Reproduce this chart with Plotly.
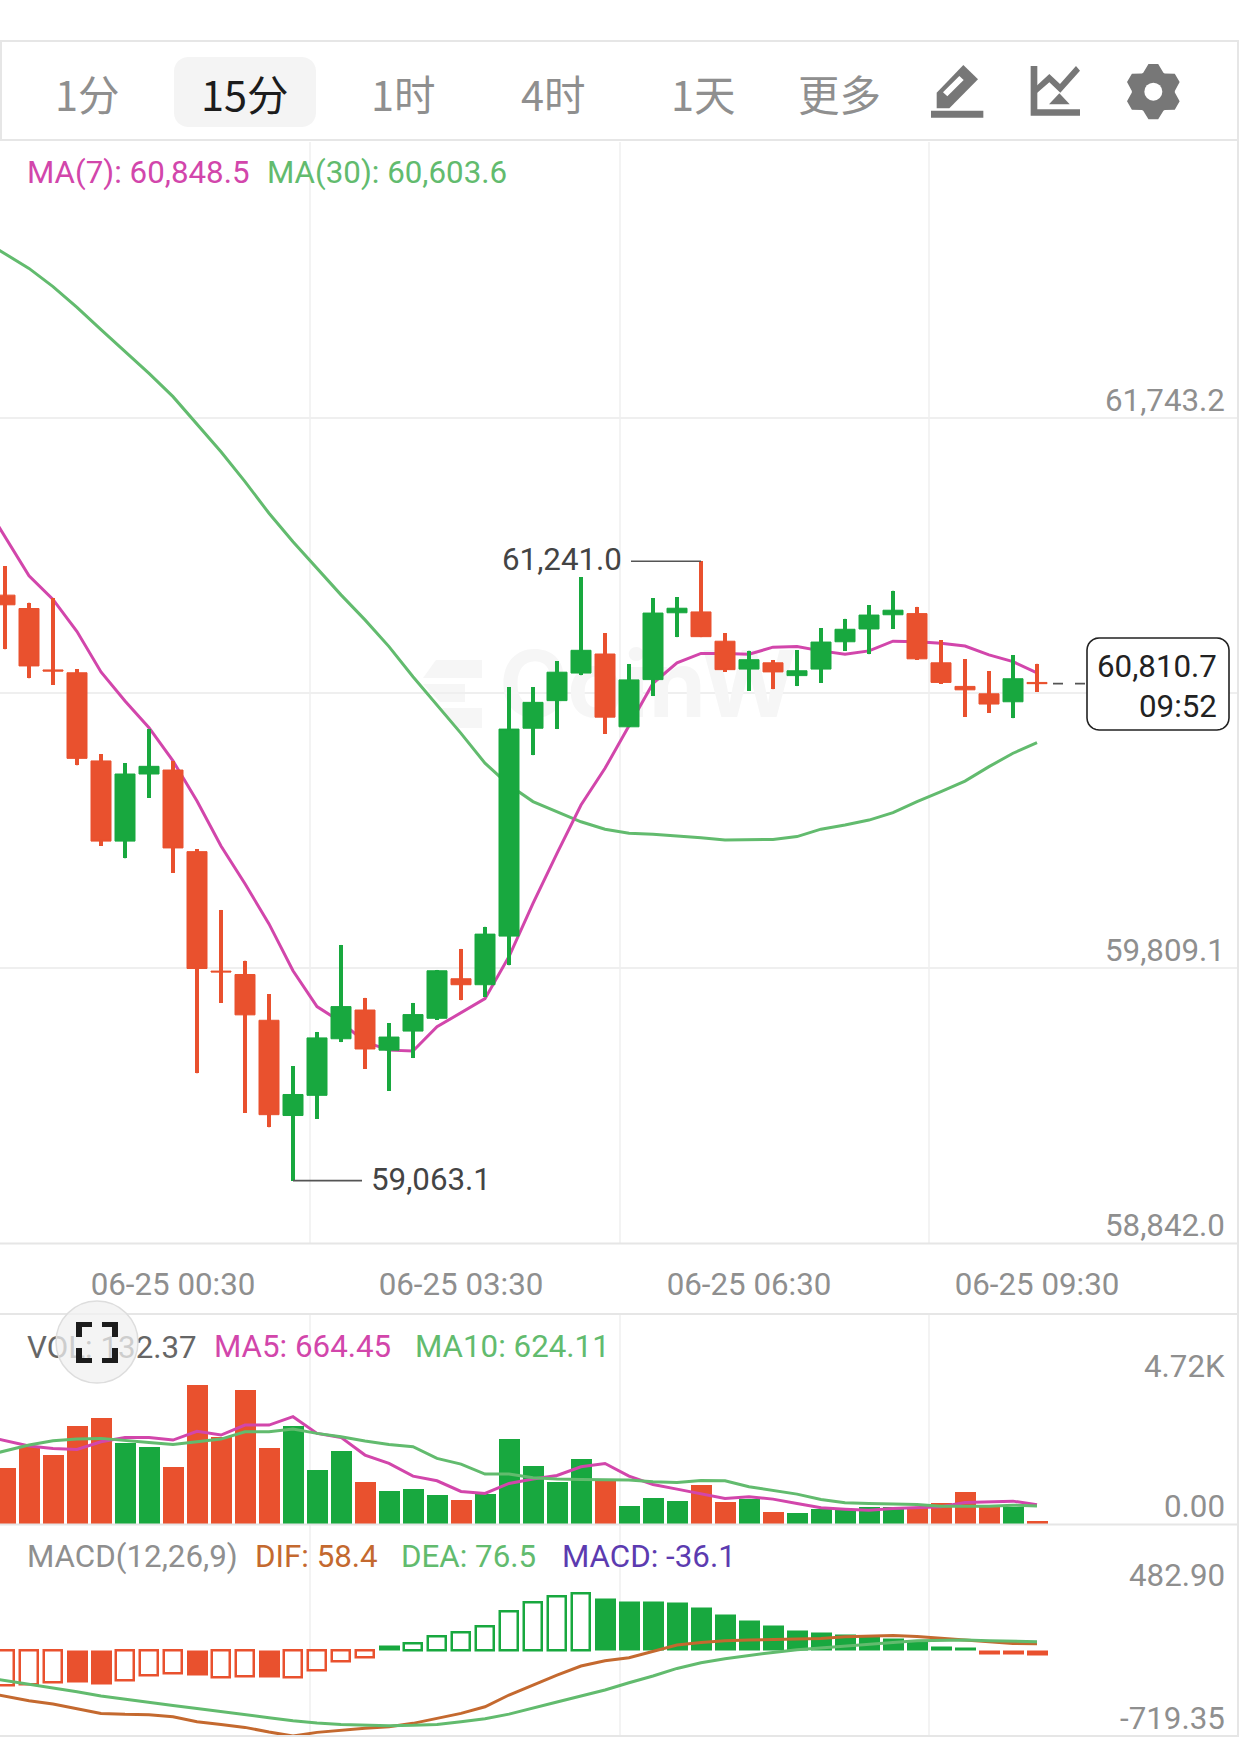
import numpy as np
import plotly.graph_objects as go

W, H = 1239, 1738

# 15-minute candles, oldest first
opens = [61122, 61075, 60859, 60849, 60539, 60257, 60493, 60507, 60220, 59800, 59788, 59627,
         59292, 59363, 59562, 59663, 59522, 59589, 59634, 59773, 59752, 59923, 60654, 60751,
         60848, 60915, 60659, 60825, 61060, 61063, 60960, 60862, 60884, 60839, 60862, 60958,
         61003, 61053, 61057, 60884, 60801, 60775, 60747, 60815]
highs = [61224, 61096, 61112, 60861, 60562, 60531, 60651, 60539, 60229, 60015, 59837, 59718,
         59466, 59586, 59892, 59706, 59616, 59688, 59804, 59878, 59956, 60798, 60798, 60889,
         61185, 60988, 60880, 61111, 61114, 61241.0, 60988, 60927, 60894, 60929, 61005, 61039,
         61087, 61138, 61081, 60964, 60896, 60855, 60910, 60881]
lows = [60931, 60829, 60806, 60523, 60240, 60196, 60409, 60146, 59440, 59689, 59301, 59250,
        59063.1, 59280, 59550, 59456, 59380, 59494, 59628, 59697, 59710, 59820, 60559, 60651,
        60840, 60635, 60659, 60767, 60974, 60974, 60853, 60785, 60791, 60802, 60814, 60927,
        60914, 61003, 60894, 60811, 60694, 60709, 60689, 60782]
closes = [61088, 60873, 60855, 60548, 60257, 60493, 60520, 60233, 59809, 59797, 59646, 59295,
          59366, 59565, 59675, 59526, 59568, 59647, 59801, 59752, 59930, 60651, 60745, 60851,
          60928, 60693, 60824, 61059, 61076, 60976, 60860, 60895, 60852, 60856, 60957, 61002,
          61052, 61069, 60898, 60815, 60789, 60739, 60828, 60810.7]

# moving averages start one bar earlier so the lines run off the left edge
ma7 = [61464, 61326, 61190, 61107, 60994, 60852, 60750, 60656, 60539, 60398, 60240, 60107,
       59966, 59801, 59675, 59621, 59551, 59522, 59519, 59604, 59654, 59703, 59851, 60038,
       60214, 60384, 60513, 60665, 60812, 60884, 60917, 60917, 60914, 60939, 60941, 60926,
       60914, 60926, 60960, 60958, 60953, 60943, 60912, 60888, 60848.5]
ma30 = [62374, 62324, 62271, 62207, 62134, 62056, 61978, 61902, 61820, 61724, 61626, 61521,
        61410, 61310, 61216, 61123, 61035, 60941, 60835, 60736, 60636, 60531, 60454, 60396,
        60360, 60325, 60299, 60285, 60281, 60276, 60269, 60261, 60261, 60263, 60273, 60299,
        60314, 60331, 60357, 60396, 60431, 60468, 60519, 60566, 60603.6]

volume = [1893, 2626, 2355, 3313, 3595, 2761, 2626, 1938, 4720, 2964, 4531, 2570,
          3325, 1837, 2479, 1443, 1138, 1195, 992, 823, 1026, 2885, 1984, 1443,
          2220, 1499, 609, 890, 789, 1330, 755, 845, 406, 372, 507, 507,
          575, 597, 597, 710, 1093, 597, 597, 132.37]
vol_ma5 = [3020, 2829, 2648, 2570, 2536, 2795, 2941, 2941, 2851, 3144, 3020, 3358,
           3358, 3640, 3077, 2941, 2344, 2062, 1634, 1476, 1116, 1048, 1386, 1533,
           1657, 1950, 2062, 1634, 1352, 1195, 1048, 879, 935, 857, 710, 564,
           518, 485, 541, 564, 597, 744, 755, 789, 664.45]
vol_ma10 = [2288, 2479, 2682, 2829, 2885, 2908, 2851, 2772, 2705, 2795, 2885, 3133,
            3133, 3223, 3077, 2964, 2818, 2705, 2626, 2231, 2040, 1702, 1702, 1578,
            1533, 1521, 1521, 1499, 1443, 1420, 1488, 1476, 1274, 1138, 1026, 845,
            733, 710, 687, 676, 620, 609, 620, 654, 624.11]

macd_hist = [-295, -281, -267, -267, -286, -253, -208, -191, -211, -222, -219, -227,
             -225, -163, -93, -56, 42, 62, 118, 154, 202, 329, 407, 455,
             482.9, 441, 418, 418, 404, 362, 306, 258, 213, 174, 152, 135,
             118, 104, 84, 34, 31, -28, -28, -36.1]
macd_hollow = [1, 1, 1, 0, 0, 1, 1, 1, 0, 1, 1, 0,
               1, 1, 1, 1, 0, 1, 1, 1, 1, 1, 1, 1,
               1, 0, 0, 0, 0, 0, 0, 0, 0, 0, 0, 0,
               0, 0, 0, 0, 0, 0, 0, 0]
dif = [-345, -382, -421, -449, -486, -528, -536, -539, -556, -598, -621, -646,
       -685, -719.35, -688, -668, -654, -640, -612, -570, -528, -472, -373, -289,
       -205, -129, -84, -59, -8, 48, 70, 84, 90, 93, 95, 104,
       118, 126, 129, 121, 107, 93, 73, 62, 58.4]
dea = [-219, -250, -284, -312, -345, -382, -410, -435, -461, -486, -514, -539,
       -564, -590, -609, -621, -629, -632, -629, -621, -598, -573, -534, -486,
       -432, -382, -331, -270, -213, -149, -101, -67, -39, -14, 8, 25,
       39, 53, 70, 84, 87, 90, 84, 81, 76.5]

time_bars = [7, 19, 31, 43]
time_labels = ["06-25 00:30", "06-25 03:30", "06-25 06:30", "06-25 09:30"]

price_ticks = [61743.2, 60776.15, 59809.1, 58842.0]
price_tick_text = ["61,743.2", "", "59,809.1", "58,842.0"]
vol_ticks = [4720, 0]
vol_tick_text = ["4.72K", "0.00"]
macd_ticks = [482.90, -719.35]
macd_tick_text = ["482.90", "-719.35"]
period_tabs = ["1分", "15分", "1时", "4时", "1天", "更多"]

RED = "#e9512e"
GREEN = "#18a83f"
MAGENTA = "#d246ab"
LIGHT_GREEN = "#62bb6e"
BROWN = "#c4692f"
GREY = "#8f8f8f"
BORDER = "#e6e6e6"
GRID = "#f3f3f3"
FONT = "Roboto"
CJK = "Noto Sans CJK SC"
TEXT_SIZE = 31.3
LINE_W = 3

bars = np.arange(len(opens))
ma_bars = np.arange(-1, len(opens))


def px(x):
    return x / W


def py(y):
    return 1 - y / H


def bar_pos(x):
    """Index position of a horizontal pixel on the shared bar axis."""
    return (x - 5) / 24


def line_shape(x0, y0, x1, y1, color=BORDER, width=2, dash="solid", layer="above"):
    return dict(type="line", xref="paper", yref="paper", x0=px(x0), x1=px(x1), y0=py(y0), y1=py(y1),
                line=dict(color=color, width=width, dash=dash), layer=layer)


def poly(points, fill, line=None, width=0, layer="above"):
    d = "M " + " L ".join(f"{px(x):.5f},{py(y):.5f}" for x, y in points) + " Z"
    return dict(type="path", xref="paper", yref="paper", path=d, fillcolor=fill,
                line=dict(color=line or fill, width=width), layer=layer)


def rounded(x0, y0, x1, y1, r):
    pts = []
    for cx, cy, a0 in ((x1 - r, y0 + r, -90), (x1 - r, y1 - r, 0), (x0 + r, y1 - r, 90), (x0 + r, y0 + r, 180)):
        for a in np.radians(np.linspace(a0, a0 + 90, 7)):
            pts.append((cx + r * np.cos(a), cy + r * np.sin(a)))
    return pts


def text(x, y, s, size=TEXT_SIZE, color=GREY, anchor="left", family=FONT):
    return dict(xref="paper", yref="paper", x=px(x), y=py(y), text=s, showarrow=False,
                xanchor=anchor, yanchor="middle", borderpad=0, borderwidth=0,
                font=dict(family=family, size=size, color=color))


def level_labels(axis, vals, labels):
    """Scale labels sit just above the level they name, flush with the right edge."""
    return [dict(xref="paper", yref=axis, x=px(1226), y=v, text=s, showarrow=False, xanchor="right",
                 yanchor="middle", yshift=18, borderpad=0, font=dict(family=FONT, size=TEXT_SIZE, color=GREY))
            for v, s in zip(vals, labels) if s]


fig = go.Figure()

# faint exchange mark behind the price panel
fig.add_trace(go.Scatter(x=[bar_pos(648)], y=[60776], mode="text", text=["CoinW"], textposition="middle center",
                         textfont=dict(family="Inter", size=92, color="#f6f6f6", weight=700),
                         hoverinfo="skip", showlegend=False, xaxis="x", yaxis="y"))
fig.add_trace(go.Scatter(x=ma_bars, y=ma30, mode="lines", line=dict(color=LIGHT_GREEN, width=LINE_W),
                         hoverinfo="skip", showlegend=False, xaxis="x", yaxis="y"))
fig.add_trace(go.Scatter(x=ma_bars, y=ma7, mode="lines", line=dict(color=MAGENTA, width=LINE_W),
                         hoverinfo="skip", showlegend=False, xaxis="x", yaxis="y"))

# candles live on an overlaid pair of axes so they paint over the averages;
# the wick is a narrow bar so the body outline can stay hairline thin
up = [c >= o for o, c in zip(opens, closes)]
candle_color = [GREEN if u else RED for u in up]
fig.add_trace(go.Bar(x=bars, y=[h - l for h, l in zip(highs, lows)], base=lows, width=0.135,
                     marker=dict(color=candle_color, line=dict(width=0)),
                     hoverinfo="skip", showlegend=False, xaxis="x4", yaxis="y4"))
fig.add_trace(go.Candlestick(x=bars, open=opens, high=highs, low=lows, close=closes, whiskerwidth=0,
                             increasing=dict(line=dict(color=GREEN, width=1), fillcolor=GREEN),
                             decreasing=dict(line=dict(color=RED, width=1), fillcolor=RED),
                             hoverinfo="skip", showlegend=False, xaxis="x4", yaxis="y4"))

fig.add_trace(go.Bar(x=bars, y=volume, width=0.875, marker=dict(color=candle_color, line=dict(width=0)),
                     hoverinfo="skip", showlegend=False, xaxis="x2", yaxis="y2"))
fig.add_trace(go.Scatter(x=ma_bars, y=vol_ma5, mode="lines", line=dict(color=MAGENTA, width=LINE_W),
                         hoverinfo="skip", showlegend=False, xaxis="x2", yaxis="y2"))
fig.add_trace(go.Scatter(x=ma_bars, y=vol_ma10, mode="lines", line=dict(color=LIGHT_GREEN, width=LINE_W),
                         hoverinfo="skip", showlegend=False, xaxis="x2", yaxis="y2"))
# the readout sits under the fullscreen button, so it is a trace rather than an annotation
fig.add_trace(go.Scatter(x=[bar_pos(27)], y=[5900], mode="text", text=["VOL: 132.37"], textposition="middle right",
                         textfont=dict(family=FONT, size=TEXT_SIZE, color="#666666"),
                         hoverinfo="skip", showlegend=False, xaxis="x2", yaxis="y2", cliponaxis=False))

hist_color = [GREEN if v >= 0 else RED for v in macd_hist]
fig.add_trace(go.Bar(x=bars, y=macd_hist, width=[0.77 if h else 0.875 for h in macd_hollow],
                     marker=dict(color=["rgba(255,255,255,0)" if h else c for h, c in zip(macd_hollow, hist_color)],
                                 line=dict(color=hist_color, width=[2.5 if h else 0 for h in macd_hollow])),
                     hoverinfo="skip", showlegend=False, xaxis="x3", yaxis="y3"))
fig.add_trace(go.Scatter(x=ma_bars, y=dif, mode="lines", line=dict(color=BROWN, width=LINE_W),
                         hoverinfo="skip", showlegend=False, xaxis="x3", yaxis="y3"))
fig.add_trace(go.Scatter(x=ma_bars, y=dea, mode="lines", line=dict(color=LIGHT_GREEN, width=LINE_W),
                         hoverinfo="skip", showlegend=False, xaxis="x3", yaxis="y3"))

# Chrome: panel borders, period selector, tool icons, fullscreen button
shapes = [line_shape(0, y, W, y) for y in (41, 140, 1243.5, 1314, 1524.5, 1736)]
shapes += [line_shape(1, 41, 1, 140), line_shape(1238, 41, 1238, 1736)]
shapes.append(poly(rounded(174, 57, 316, 127, 14), "#f4f4f4"))

# pen
ICON = "#777777"


def z9(x, y):
    return 920 + x / 3, 50 + y / 3


shapes.append(poly([z9(*p) for p in [(130, 45), (174, 88), (88, 175), (50, 175), (50, 128)]], ICON))
shapes.append(poly([z9(*p) for p in [(118, 78), (131, 90), (82, 139), (69, 127)]], "#ffffff"))
shapes.append(poly([z9(*p) for p in [(33, 182), (190, 182), (190, 203), (33, 203)]], ICON))
# chart tool
shapes.append(poly([z9(*p) for p in [(332, 48), (352, 48), (352, 178), (480, 178), (480, 197), (332, 197)]], ICON))
shapes.append(poly([z9(*p) for p in [(350, 107), (388, 72), (420, 102), (468, 48), (480, 62), (421, 128), (388, 97), (350, 130)]], ICON))
shapes.append(poly([z9(*p) for p in [(387, 163), (449, 163), (418, 130)]], ICON))
# gear
gear_x, gear_y = z9(700, 125)
gear = []
for k in range(6):
    a = np.radians(-90 + 60 * k)
    for da, r in ((-28, 21.5), (-10, 28), (10, 28), (28, 21.5)):
        t = a + np.radians(da)
        gear.append((gear_x + r * np.cos(t), gear_y + r * np.sin(t)))
shapes.append(poly(gear, ICON))
shapes.append(dict(type="circle", xref="paper", yref="paper", x0=px(gear_x - 9), x1=px(gear_x + 9),
                   y0=py(gear_y + 9), y1=py(gear_y - 9), fillcolor="#ffffff", line=dict(width=0), layer="above"))

# watermark logo blocks
shapes.append(poly([(436, 660), (482, 660), (482, 678), (423, 678)], "#f6f6f6", layer="below"))
shapes.append(poly([(423, 684), (465, 684), (465, 702), (440, 702)], "#f6f6f6", layer="below"))
shapes.append(poly([(440, 708), (482, 708), (482, 728), (455, 728)], "#f6f6f6", layer="below"))

# fullscreen button
shapes.append(dict(type="circle", xref="paper", yref="paper", x0=px(56), x1=px(138), y0=py(1383), y1=py(1301),
                   fillcolor="rgba(240,240,240,0.75)", line=dict(color="#dddddd", width=1.5), layer="above"))
for sx, sy in ((76, 1322), (118, 1322), (76, 1363), (118, 1363)):
    dx = 16 if sx < 97 else -16
    dy = 15 if sy < 1342 else -15
    tx = 6 if sx < 97 else -6
    ty = 5 if sy < 1342 else -5
    shapes.append(poly([(sx, sy), (sx + dx, sy), (sx + dx, sy + ty), (sx + tx, sy + ty), (sx + tx, sy + dy), (sx, sy + dy)], "#1c1c1c"))

# price callouts
leader = dict(color="#555555", width=1.6)
shapes.append(dict(type="line", xref="x", yref="y", x0=29, x1=bar_pos(631), y0=max(highs), y1=max(highs), line=leader))
shapes.append(dict(type="line", xref="x", yref="y", x0=12, x1=bar_pos(362), y0=min(lows), y1=min(lows), line=leader))
shapes.append(dict(type="line", xref="x", yref="y", x0=bar_pos(1053), x1=bar_pos(1087), y0=closes[-1], y1=closes[-1],
                   line=dict(color="#555555", width=1.6, dash="10px,12px")))
shapes.append(poly(rounded(1087, 638, 1229, 730, 12), "#ffffff", "#222222", 1.6))

TAB = 41.5
annotations = [
    text(87, 93, period_tabs[0], TAB, GREY, "center", CJK),
    text(245, 93, period_tabs[1], TAB, "#1c1c1c", "center", CJK),
    text(403, 93, period_tabs[2], TAB, GREY, "center", CJK),
    text(553, 93, period_tabs[3], TAB, GREY, "center", CJK),
    text(703, 93, period_tabs[4], TAB, GREY, "center", CJK),
    text(839, 93, period_tabs[5], TAB, GREY, "center", CJK),
    text(27, 173, "MA(7): 60,848.5", color=MAGENTA),
    text(267, 173, "MA(30): 60,603.6", color=LIGHT_GREEN),
    text(214, 1346, "MA5: 664.45", color=MAGENTA),
    text(415, 1346, "MA10: 624.11", color=LIGHT_GREEN),
    text(27, 1556, "MACD(12,26,9)", color=GREY),
    text(255, 1556, "DIF: 58.4", color=BROWN),
    text(401, 1556, "DEA: 76.5", color=LIGHT_GREEN),
    text(562, 1556, "MACD: -36.1", color="#5c3bb0"),
    text(622, 559, f"{max(highs):,.1f}", color="#444444", anchor="right"),
    text(371, 1179, f"{min(lows):,.1f}", color="#444444"),
    text(1217, 666, f"{closes[-1]:,.1f}", color="#222222", anchor="right"),
    text(1217, 706, "09:52", color="#222222", anchor="right"),
]
annotations += level_labels("y", price_ticks, price_tick_text)
annotations += level_labels("y2", vol_ticks, vol_tick_text)
annotations += level_labels("y3", macd_ticks, macd_tick_text)

x_range = [bar_pos(0), bar_pos(W)]
grid_bars = [bar_pos(309.75), bar_pos(619.5), bar_pos(929.25)]
price_range = [58842.0, 62715.5]


def x_axis(anchor, labelled=False):
    axis = dict(range=x_range, anchor=anchor, domain=[0, 1], fixedrange=True, zeroline=False, showline=False,
                rangeslider=dict(visible=False), showgrid=False, tickmode="array",
                minor=dict(tickmode="array", tickvals=grid_bars, showgrid=True, gridcolor=GRID, gridwidth=1.5, ticks=""))
    if labelled:
        axis.update(tickvals=time_bars, ticktext=time_labels, ticks="outside", ticklen=13, tickcolor="rgba(0,0,0,0)",
                    tickfont=dict(family=FONT, size=TEXT_SIZE, color=GREY))
    else:
        axis.update(tickvals=[], showticklabels=False)
    return axis


def y_axis(anchor, top, bottom, rng, vals, grid=False):
    return dict(domain=[py(bottom), py(top)], range=rng, anchor=anchor, side="right", fixedrange=True,
                tickmode="array", tickvals=vals, showticklabels=False, ticks="", zeroline=False, showline=False,
                showgrid=grid, gridcolor="#efefef", gridwidth=1.5)


fig.update_layout(
    width=W, height=H, autosize=False, margin=dict(l=0, r=0, t=0, b=0),
    paper_bgcolor="#ffffff", plot_bgcolor="#ffffff", showlegend=False, hovermode=False,
    boxgap=0.1667, boxgroupgap=0, bargap=0, dragmode=False,
    xaxis=x_axis("y", True), xaxis2=x_axis("y2"), xaxis3=x_axis("y3"),
    yaxis=y_axis("x", 142, 1243.5, price_range, price_ticks, True),
    yaxis2=y_axis("x2", 1314, 1524.5, [0, 7108], vol_ticks),
    yaxis3=y_axis("x3", 1524.5, 1737, [-727, 1064], macd_ticks),
    xaxis4=dict(range=x_range, overlaying="x", anchor="y4", visible=False, fixedrange=True,
                rangeslider=dict(visible=False)),
    yaxis4=dict(range=price_range, overlaying="y", anchor="x4", visible=False, fixedrange=True),
    shapes=shapes, annotations=annotations,
)

fig.write_html("out.html", config={"displayModeBar": False, "responsive": False})
